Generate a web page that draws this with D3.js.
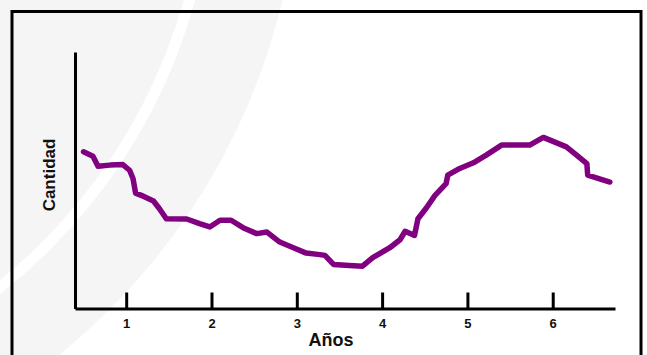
<!DOCTYPE html>
<html>
<head>
<meta charset="utf-8">
<script src="https://cdn.jsdelivr.net/npm/d3@7"></script>
<style>
  html, body { margin: 0; padding: 0; background: #ffffff; }
  svg { display: block; }
  text { font-family: "Liberation Sans", Arial, Helvetica, sans-serif; font-weight: bold; fill: #111; }
</style>
</head>
<body>
<svg id="chart" width="647" height="355"></svg>
<script>
// ---- data ----
const years = [0.50, 0.61, 0.67, 0.81, 0.96, 1.04, 1.08, 1.11, 1.20, 1.32, 1.39, 1.47,
  1.71, 1.86, 1.98, 2.10, 2.23, 2.37, 2.53, 2.65, 2.80, 2.96, 3.11, 3.27, 3.33, 3.43,
  3.62, 3.77, 3.89, 4.09, 4.21, 4.27, 4.38, 4.42, 4.52, 4.62, 4.75, 4.77, 4.91, 5.07,
  5.22, 5.40, 5.73, 5.89, 6.16, 6.28, 6.40, 6.41, 6.67];
const cantidad = [61.1, 59.4, 55.5, 55.9, 56.1, 53.9, 50.7, 45.0, 43.8, 41.9, 38.9, 35.0,
  34.9, 33.1, 31.8, 34.4, 34.4, 31.5, 29.2, 29.8, 25.9, 23.7, 21.6, 21.0, 20.7, 17.2,
  16.8, 16.5, 19.8, 23.7, 26.8, 30.1, 28.5, 35.0, 39.3, 44.1, 48.7, 52.0, 54.6, 56.8,
  59.8, 63.7, 63.7, 66.7, 63.0, 59.8, 56.5, 52.0, 49.3];
const xTicks = [1, 2, 3, 4, 5, 6];
const xLabel = "Años";
const yLabel = "Cantidad";

const svg = d3.select("#chart");

// ---- faint background watermark ----
const wm = svg.append("g");
wm.append("circle").attr("cx", -350).attr("cy", -150).attr("r", 650).attr("fill", "#f5f5f5");
wm.append("circle").attr("cx", -350).attr("cy", -150).attr("r", 560)
  .attr("fill", "none").attr("stroke", "#ffffff").attr("stroke-width", 11);

// ---- frame ----
svg.append("rect")
  .attr("x", 12).attr("y", 11.5).attr("width", 629).attr("height", 420)
  .attr("fill", "none").attr("stroke", "#000").attr("stroke-width", 3);

// ---- scales ----
const x = d3.scaleLinear().domain([0.4, 6.73]).range([75, 615]);
const y = d3.scaleLinear().domain([0, 100]).range([308.5, 52]);

// ---- axes ----
const xAxis = d3.axisBottom(x).tickValues(xTicks).tickFormat(d3.format("d"))
  .tickSize(-16).tickSizeOuter(0).tickPadding(10);
const gx = svg.append("g").attr("transform", `translate(0,${y(0)})`).call(xAxis);
gx.select(".domain").attr("stroke", "#000").attr("stroke-width", 3);
gx.selectAll(".tick line").attr("stroke", "#000").attr("stroke-width", 3);
gx.selectAll(".tick text").attr("font-size", 13).attr("font-weight", "bold")
  .attr("font-family", "'Liberation Sans', Arial, sans-serif").attr("fill", "#111");

const yAxis = d3.axisLeft(y).tickValues([]).tickSizeOuter(0);
const gy = svg.append("g").attr("transform", `translate(${x(0.4)},0)`).call(yAxis);
gy.select(".domain").attr("stroke", "#000").attr("stroke-width", 3);

// ---- labels ----
svg.append("text").attr("x", 331).attr("y", 346).attr("text-anchor", "middle")
  .attr("font-size", 18).text(xLabel);
svg.append("text").attr("transform", "translate(55,175) rotate(-90)")
  .attr("text-anchor", "middle").attr("font-size", 17).text(yLabel);

// ---- line ----
const pts = years.map((d, i) => [d, cantidad[i]]);
svg.append("path").datum(pts)
  .attr("fill", "none").attr("stroke", "#800080").attr("stroke-width", 5.5)
  .attr("stroke-linejoin", "round").attr("stroke-linecap", "round")
  .attr("d", d3.line().x(d => x(d[0])).y(d => y(d[1])));
</script>
</body>
</html>
